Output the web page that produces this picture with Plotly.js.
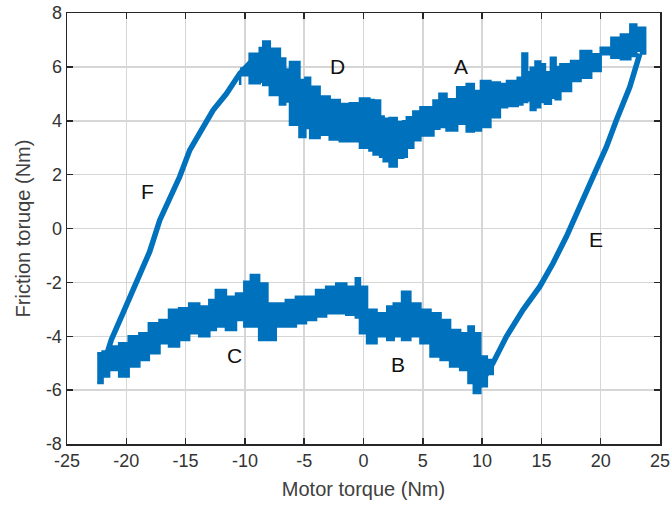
<!DOCTYPE html>
<html>
<head>
<meta charset="utf-8">
<script src="https://cdn.plot.ly/plotly-3.0.1.min.js"></script>
<style>html,body{margin:0;padding:0;background:#fff;}#chart{width:670px;height:506px;}</style>
</head>
<body>
<div id="chart"></div>
<script>
// Upper branch (D, A): motor torque and upper/lower envelope of the noisy friction band
const topX     = [-10.4, -9.6, -8.75, -8.45, -7.9, -7.05, -6.6, -6.2, -5.4, -4.9, -4.5, -3.7, -2.85, -2.0, -1.15, -0.3, 0.5, 0.85, 1.4, 1.7, 2.2, 2.8, 3.35, 3.65, 4.2, 4.8, 5.9, 6.4, 7.0, 7.9, 8.7, 9.3, 9.9, 10.7, 11.5, 12.1, 13.0, 13.4, 13.8, 14.1, 14.5, 14.9, 15.3, 15.8, 16.2, 16.6, 17.5, 18.3, 19.2, 20.0, 20.9, 21.7, 22.5, 23.0, 23.4, 23.75];
const topUpper = [5.94, 6.49, 6.70, 6.94, 6.67, 6.31, 5.90, 6.18, 5.51, 5.60, 5.26, 4.90, 4.77, 4.62, 4.65, 4.83, 4.77, 4.75, 4.16, 4.07, 4.10, 3.95, 3.98, 4.13, 4.34, 4.50, 4.75, 5.00, 4.80, 5.24, 5.36, 5.10, 5.48, 5.42, 5.36, 5.48, 5.60, 6.50, 5.80, 5.97, 6.20, 6.10, 5.80, 6.34, 6.00, 6.10, 6.22, 6.59, 6.47, 6.71, 7.08, 7.20, 7.57, 7.45, 7.45, 7.00];
const topLower = [5.33, 5.69, 5.39, 5.45, 5.33, 4.96, 4.60, 4.71, 3.85, 3.40, 3.73, 3.36, 3.48, 3.30, 3.24, 3.24, 3.00, 2.90, 2.75, 2.66, 2.50, 2.30, 2.63, 2.66, 3.00, 3.28, 3.45, 3.70, 3.77, 3.64, 3.89, 3.60, 3.64, 3.77, 4.13, 4.50, 4.55, 4.60, 4.70, 4.75, 4.40, 4.50, 4.70, 4.63, 4.85, 4.80, 5.10, 5.48, 5.60, 5.85, 6.47, 6.34, 6.28, 6.40, 6.60, 6.50];

// Lower branch (C, B)
const botX     = [-22.45, -22.0, -21.45, -20.6, -19.8, -18.9, -18.1, -17.2, -16.4, -15.55, -14.7, -13.85, -13.0, -12.45, -11.6, -10.75, -10.05, -9.5, -8.8, -8.1, -7.4, -6.55, -5.7, -4.85, -4.0, -3.15, -2.3, -1.45, -0.65, -0.3, 0.3, 1.1, 2.0, 2.55, 3.25, 3.95, 4.8, 5.65, 6.5, 7.3, 8.15, 8.85, 9.3, 9.85, 10.4, 10.9];
const botUpper = [-4.63, -4.57, -4.38, -4.26, -4.00, -3.89, -3.52, -3.40, -3.02, -2.96, -2.78, -2.90, -2.65, -2.28, -2.53, -2.41, -1.98, -1.73, -2.04, -2.78, -2.78, -2.65, -2.53, -2.53, -2.28, -2.16, -2.04, -2.16, -1.85, -2.16, -3.02, -3.15, -2.90, -2.78, -2.35, -2.78, -3.02, -3.15, -3.40, -3.77, -3.89, -3.64, -3.89, -4.75, -4.88, -4.90];
const botLower = [-5.74, -5.74, -5.49, -5.25, -5.49, -5.12, -4.88, -4.63, -4.26, -4.38, -4.14, -3.89, -4.00, -3.77, -3.64, -3.77, -3.40, -3.64, -3.64, -4.14, -4.14, -3.64, -3.64, -3.52, -3.40, -3.27, -3.15, -3.15, -3.20, -3.30, -3.89, -4.26, -4.00, -4.14, -4.00, -4.14, -4.00, -4.26, -4.75, -4.88, -5.12, -5.25, -5.74, -6.11, -5.86, -5.40];

// Rising branch F
const fX = [-22.1, -21.26, -20.28, -19.15, -18.03, -17.18, -16.34, -15.5, -14.65, -13.67, -12.69, -11.56, -10.44, -9.45];
const fY = [-5.3, -4.13, -3.14, -2.03, -0.86, 0.31, 1.06, 1.92, 2.91, 3.65, 4.39, 5.0, 5.75, 6.2];

// Falling branch E
const eX = [23.3, 22.45, 21.32, 20.48, 19.35, 18.23, 17.11, 15.98, 14.86, 13.45, 12.05, 10.92, 10.1];
const eY = [6.49, 5.25, 4.02, 3.03, 1.92, 0.81, -0.30, -1.29, -2.16, -3.02, -4.01, -4.99, -5.6];

// Segment labels
const labelText = ['A', 'B', 'C', 'D', 'E', 'F'];
const labelX    = [8.25, 2.9, -10.85, -2.2, 19.6, -18.2];
const labelY    = [6.0, -5.06, -4.72, 6.0, -0.39, 1.36];

// Tick labels
const xTickVals = [-25, -20, -15, -10, -5, 0, 5, 10, 15, 20, 25];
const xTickText = ['-25', '-20', '-15', '-10', '-5', '0', '5', '10', '15', '20', '25'];
const yTickVals = [-8, -6, -4, -2, 0, 2, 4, 6, 8];
const yTickText = ['-8', '-6', '-4', '-2', '0', '2', '4', '6', '8'];

const blue = '#0072BD';
function band(xs, up, lo) {
  return {
    x: xs.concat(xs.slice().reverse()),
    y: up.concat(lo.slice().reverse()),
    type: 'scatter', mode: 'lines', fill: 'toself',
    fillcolor: blue, line: {color: blue, width: 2.5, shape: 'hv'},
    hoverinfo: 'skip', showlegend: false
  };
}
const traces = [
  band(topX, topUpper, topLower),
  band(botX, botUpper, botLower),
  {x: fX, y: fY, type: 'scatter', mode: 'lines', line: {color: blue, width: 5.5}, showlegend: false},
  {x: eX, y: eY, type: 'scatter', mode: 'lines', line: {color: blue, width: 5.5}, showlegend: false}
];

const fontFam = 'Liberation Sans, Arial, sans-serif';
const axisCommon = {
  showline: true, linecolor: '#262626', linewidth: 1.5, mirror: 'ticks',
  ticks: 'inside', ticklen: 6, tickwidth: 1.5, tickcolor: '#262626',
  showgrid: true, gridcolor: '#d6d6d6', gridwidth: 1.5, zeroline: false,
  ticklabeloverflow: 'allow',
  tickfont: {family: fontFam, size: 18, color: '#333333'}
};

const layout = {
  width: 670, height: 506,
  margin: {l: 67, r: 10, t: 13, b: 62},
  paper_bgcolor: '#ffffff', plot_bgcolor: '#ffffff',
  showlegend: false,
  xaxis: Object.assign({}, axisCommon, {
    range: [-25, 25], tickmode: 'array', tickvals: xTickVals, ticktext: xTickText,
    title: {text: 'Motor torque (Nm)', standoff: 12, font: {family: fontFam, size: 20, color: '#404040'}}
  }),
  yaxis: Object.assign({}, axisCommon, {
    range: [-8, 8], tickmode: 'array', tickvals: yTickVals, ticktext: yTickText,
    title: {text: 'Friction toruqe (Nm)', standoff: 10, font: {family: fontFam, size: 20, color: '#404040'}}
  }),
  annotations: labelText.map((t, i) => ({
    x: labelX[i], y: labelY[i], xref: 'x', yref: 'y', text: t, showarrow: false,
    font: {family: fontFam, size: 21, color: '#111111'}
  }))
};

Plotly.newPlot('chart', traces, layout, {staticPlot: true, displayModeBar: false});
</script>
</body>
</html>
